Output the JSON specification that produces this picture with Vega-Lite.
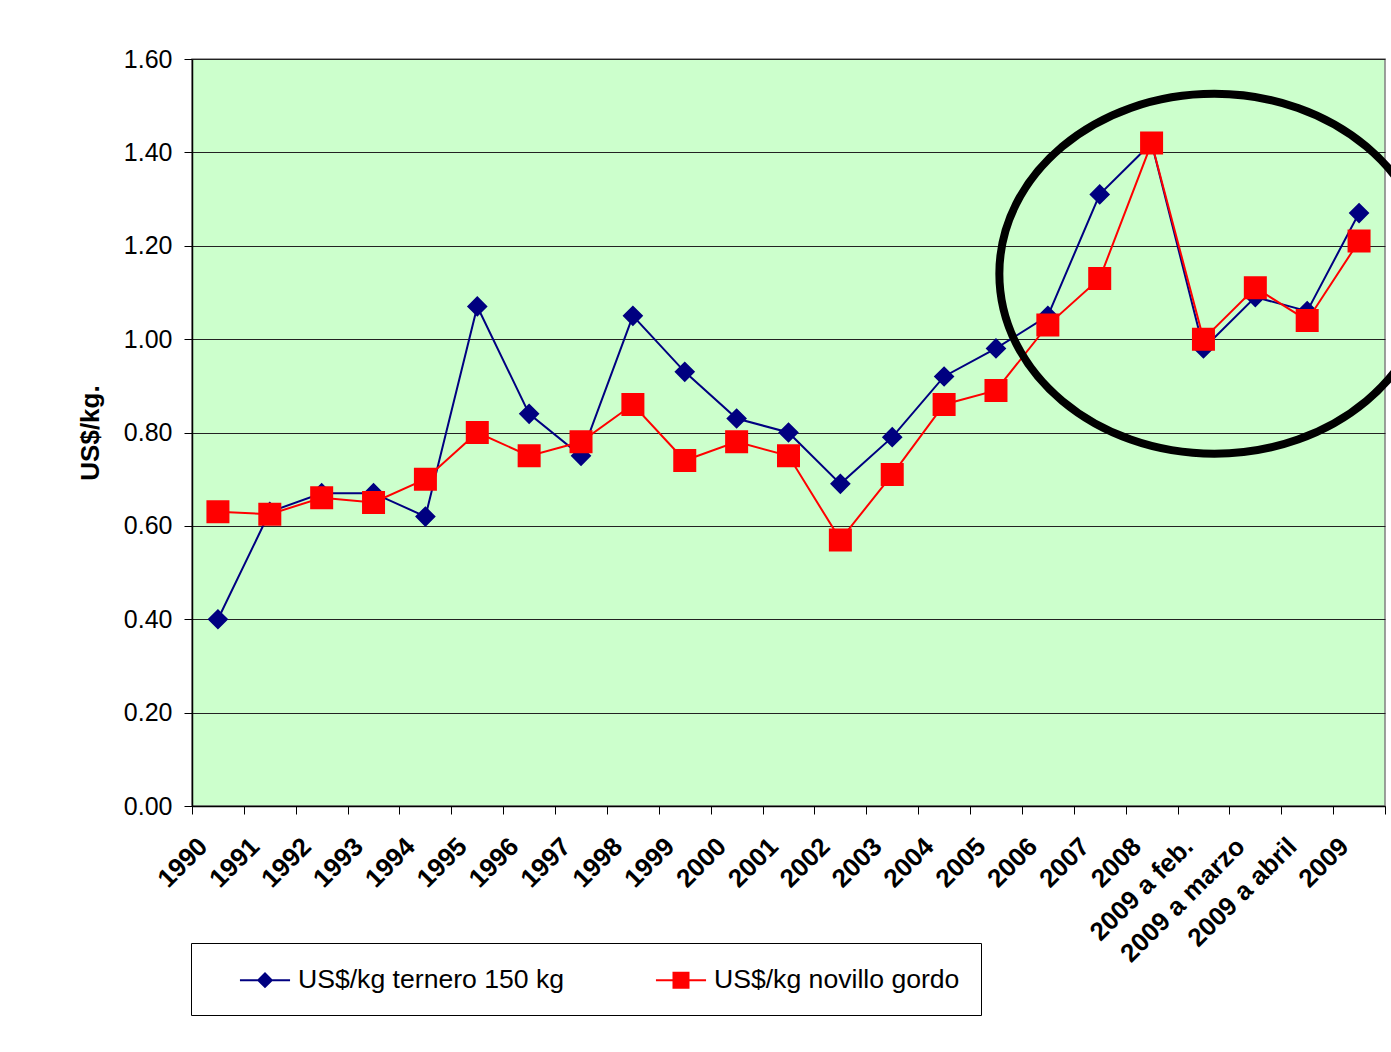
{
  "$schema": "https://vega.github.io/schema/vega-lite/v6.json",
  "width": 1193,
  "height": 747,
  "autosize": "none",
  "padding": {"left": 192, "top": 59, "right": 6, "bottom": 246},
  "background": "white",
  "config": {
    "view": {"fill": "#CCFFCC", "stroke": "#808080", "strokeWidth": 1.5},
    "font": "Liberation Sans"
  },
  "datasets": {
    "precios": [
      {"periodo": "1990", "serie": "US$/kg ternero 150 kg", "valor": 0.40},
      {"periodo": "1991", "serie": "US$/kg ternero 150 kg", "valor": 0.63},
      {"periodo": "1992", "serie": "US$/kg ternero 150 kg", "valor": 0.67},
      {"periodo": "1993", "serie": "US$/kg ternero 150 kg", "valor": 0.67},
      {"periodo": "1994", "serie": "US$/kg ternero 150 kg", "valor": 0.62},
      {"periodo": "1995", "serie": "US$/kg ternero 150 kg", "valor": 1.07},
      {"periodo": "1996", "serie": "US$/kg ternero 150 kg", "valor": 0.84},
      {"periodo": "1997", "serie": "US$/kg ternero 150 kg", "valor": 0.75},
      {"periodo": "1998", "serie": "US$/kg ternero 150 kg", "valor": 1.05},
      {"periodo": "1999", "serie": "US$/kg ternero 150 kg", "valor": 0.93},
      {"periodo": "2000", "serie": "US$/kg ternero 150 kg", "valor": 0.83},
      {"periodo": "2001", "serie": "US$/kg ternero 150 kg", "valor": 0.80},
      {"periodo": "2002", "serie": "US$/kg ternero 150 kg", "valor": 0.69},
      {"periodo": "2003", "serie": "US$/kg ternero 150 kg", "valor": 0.79},
      {"periodo": "2004", "serie": "US$/kg ternero 150 kg", "valor": 0.92},
      {"periodo": "2005", "serie": "US$/kg ternero 150 kg", "valor": 0.98},
      {"periodo": "2006", "serie": "US$/kg ternero 150 kg", "valor": 1.05},
      {"periodo": "2007", "serie": "US$/kg ternero 150 kg", "valor": 1.31},
      {"periodo": "2008", "serie": "US$/kg ternero 150 kg", "valor": 1.42},
      {"periodo": "2009 a feb.", "serie": "US$/kg ternero 150 kg", "valor": 0.98},
      {"periodo": "2009 a marzo", "serie": "US$/kg ternero 150 kg", "valor": 1.09},
      {"periodo": "2009 a abril", "serie": "US$/kg ternero 150 kg", "valor": 1.06},
      {"periodo": "2009", "serie": "US$/kg ternero 150 kg", "valor": 1.27},
      {"periodo": "1990", "serie": "US$/kg novillo gordo", "valor": 0.63},
      {"periodo": "1991", "serie": "US$/kg novillo gordo", "valor": 0.625},
      {"periodo": "1992", "serie": "US$/kg novillo gordo", "valor": 0.66},
      {"periodo": "1993", "serie": "US$/kg novillo gordo", "valor": 0.65},
      {"periodo": "1994", "serie": "US$/kg novillo gordo", "valor": 0.70},
      {"periodo": "1995", "serie": "US$/kg novillo gordo", "valor": 0.80},
      {"periodo": "1996", "serie": "US$/kg novillo gordo", "valor": 0.75},
      {"periodo": "1997", "serie": "US$/kg novillo gordo", "valor": 0.78},
      {"periodo": "1998", "serie": "US$/kg novillo gordo", "valor": 0.86},
      {"periodo": "1999", "serie": "US$/kg novillo gordo", "valor": 0.74},
      {"periodo": "2000", "serie": "US$/kg novillo gordo", "valor": 0.78},
      {"periodo": "2001", "serie": "US$/kg novillo gordo", "valor": 0.75},
      {"periodo": "2002", "serie": "US$/kg novillo gordo", "valor": 0.57},
      {"periodo": "2003", "serie": "US$/kg novillo gordo", "valor": 0.71},
      {"periodo": "2004", "serie": "US$/kg novillo gordo", "valor": 0.86},
      {"periodo": "2005", "serie": "US$/kg novillo gordo", "valor": 0.89},
      {"periodo": "2006", "serie": "US$/kg novillo gordo", "valor": 1.03},
      {"periodo": "2007", "serie": "US$/kg novillo gordo", "valor": 1.13},
      {"periodo": "2008", "serie": "US$/kg novillo gordo", "valor": 1.42},
      {"periodo": "2009 a feb.", "serie": "US$/kg novillo gordo", "valor": 1.00},
      {"periodo": "2009 a marzo", "serie": "US$/kg novillo gordo", "valor": 1.11},
      {"periodo": "2009 a abril", "serie": "US$/kg novillo gordo", "valor": 1.04},
      {"periodo": "2009", "serie": "US$/kg novillo gordo", "valor": 1.21}
    ],
    "nota": [{"periodo": "2009 a feb.", "valor": 1.14}]
  },
  "data": {"name": "precios"},
  "encoding": {
    "x": {
      "field": "periodo",
      "type": "nominal",
      "scale": {
        "domain": ["1990","1991","1992","1993","1994","1995","1996","1997","1998","1999","2000","2001","2002","2003","2004","2005","2006","2007","2008","2009 a feb.","2009 a marzo","2009 a abril","2009"],
        "paddingInner": 0,
        "paddingOuter": 0
      },
      "axis": {
        "title": null,
        "labelAngle": -45,
        "labelAlign": "right",
        "labelBaseline": "middle",
        "labelFontSize": 26,
        "labelFontWeight": "bold",
        "labelColor": "black",
        "labelPadding": 28,
        "labelOffset": -15,
        "labelOverlap": false,
        "labelBound": false,
        "tickBand": "extent",
        "tickColor": "black",
        "tickSize": 8,
        "domainColor": "black",
        "domainWidth": 1.5,
        "grid": false
      }
    },
    "y": {
      "field": "valor",
      "type": "quantitative",
      "scale": {"domain": [0, 1.6], "nice": false, "zero": true},
      "axis": {
        "title": "US$/kg.",
        "titleFontSize": 26,
        "titleFontWeight": "bold",
        "titleColor": "black",
        "titlePadding": 20,
        "values": [0, 0.2, 0.4, 0.6, 0.8, 1.0, 1.2, 1.4, 1.6],
        "format": ".2f",
        "labelFontSize": 25,
        "labelColor": "black",
        "labelPadding": 12,
        "tickSize": 8,
        "tickColor": "black",
        "domainColor": "black",
        "domainWidth": 1.5,
        "gridColor": "#222222",
        "gridOpacity": 1,
        "gridWidth": 1
      }
    }
  },
  "layer": [
    {
      "transform": [{"filter": "datum.serie === 'US$/kg ternero 150 kg'"}],
      "mark": {"type": "line", "color": "#000080", "strokeWidth": 2}
    },
    {
      "transform": [{"filter": "datum.serie === 'US$/kg ternero 150 kg'"}],
      "mark": {"type": "point", "filled": true, "opacity": 1, "size": 2116, "strokeWidth": 0},
      "encoding": {
        "color": {
          "field": "serie", "type": "nominal",
          "scale": {"domain": ["US$/kg ternero 150 kg", "US$/kg novillo gordo"], "range": ["#000080", "#FF0000"]},
          "legend": {
            "orient": "none",
            "legendX": -1,
            "legendY": 884,
            "direction": "horizontal",
            "title": null,
            "strokeColor": "black",
            "fillColor": "white",
            "padding": 21,
            "labelFontSize": 26.6,
            "labelColor": "black",
            "labelOffset": 17,
            "labelLimit": 600,
            "symbolSize": 900,
            "symbolOffset": 37,
            "columnPadding": 63,
            "symbolStrokeWidth": 2,
            "encode": {"symbols": {"update": {"stroke": [{"test": "datum.index === 0", "value": "#000080"}, {"value": "#FF0000"}], "strokeWidth": {"value": 2}}}}
          }
        },
        "stroke": {
          "field": "serie", "type": "nominal",
          "scale": {"domain": ["US$/kg ternero 150 kg", "US$/kg novillo gordo"], "range": ["#000080", "#FF0000"]}
        },
        "shape": {
          "field": "serie", "type": "nominal",
          "scale": {"domain": ["US$/kg ternero 150 kg", "US$/kg novillo gordo"], "range": ["M -1.67 0 L 1.67 0 M -0.45 0 L 0 -0.45 L 0.45 0 L 0 0.45 Z", "M -1.67 0 L 1.67 0 M -0.5 -0.5 L 0.5 -0.5 L 0.5 0.5 L -0.5 0.5 Z"]}
        }
      }
    },
    {
      "transform": [{"filter": "datum.serie === 'US$/kg novillo gordo'"}],
      "mark": {"type": "line", "color": "#FF0000", "strokeWidth": 2}
    },
    {
      "transform": [{"filter": "datum.serie === 'US$/kg novillo gordo'"}],
      "mark": {"type": "point", "filled": true, "opacity": 1, "size": 2116, "strokeWidth": 0},
      "encoding": {
        "color": {"field": "serie", "type": "nominal"},
        "stroke": {"field": "serie", "type": "nominal"},
        "shape": {"field": "serie", "type": "nominal"}
      }
    },
    {
      "data": {"name": "nota"},
      "mark": {"type": "point", "shape": "M -1 0 A 1 0.837 0 1 0 1 0 A 1 0.837 0 1 0 -1 0 Z", "size": 184900, "filled": false, "stroke": "black", "strokeWidth": 8, "opacity": 1},
      "encoding": {
        "x": {"field": "periodo", "type": "nominal", "bandPosition": 0.71},
        "y": {"field": "valor", "type": "quantitative"}
      }
    }
  ]
}
